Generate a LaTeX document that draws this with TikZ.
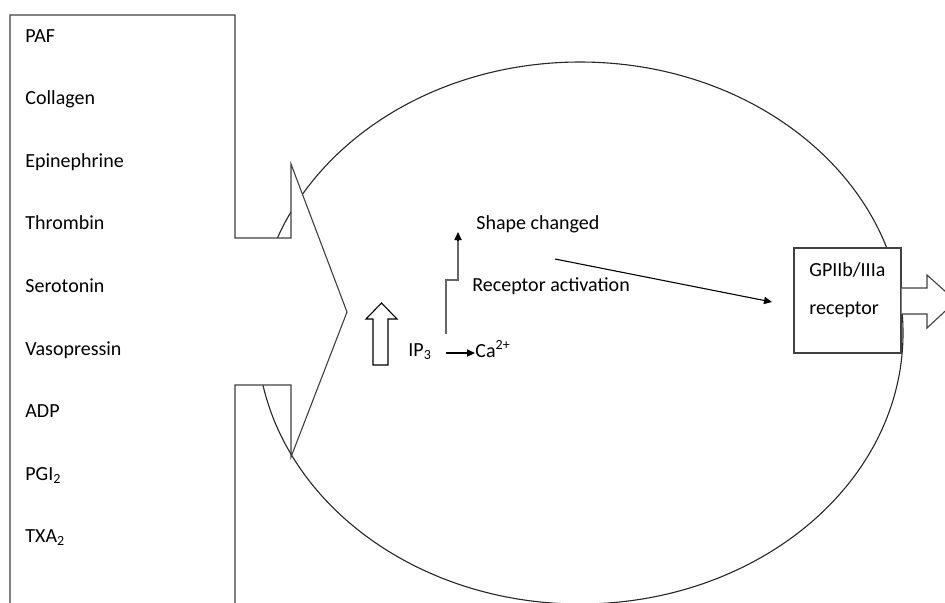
\documentclass[tikz,border=0pt]{standalone}
\usepackage{fontspec}
\setmainfont{Carlito}
\usetikzlibrary{arrows.meta,positioning}

\begin{document}
\begin{tikzpicture}[
  x=0.5pt, y=-0.5pt,
  font=\fontsize{10}{12}\selectfont,
  outline/.style={draw=black!75, line width=0.55pt, fill=white},
  lbl/.style={anchor=base west, inner sep=0pt},
  tip/.style={draw=black, line width=0.55pt, -{Triangle[length=4pt, width=3.6pt]}},
  stepline/.style={draw=black!60, line width=0.55pt}
]
\useasboundingbox (0,0) rectangle (945,602);
\clip (0,0) rectangle (945,602);

% cell
\draw[black!85, line width=0.55pt] (580,333) ellipse [x radius=161.5pt, y radius=135.5pt];

% agonist box with its arrow into the cell
\draw[outline] (10,615) -- (10,15) -- (235,15) -- (235,238) -- (291,238) -- (291,164)
  -- (347,312) -- (291,457) -- (291,385) -- (235,385) -- (235,615);

\node[lbl] (paf) at (25,42) {PAF};
\node[lbl] (collagen) at (25,104.6) {Collagen};
\node[lbl] (epi) at (25,167.2) {Epinephrine};
\node[lbl] (thrombin) at (25,229.8) {Thrombin};
\node[lbl] (serotonin) at (25,292.4) {Serotonin};
\node[lbl] (vaso) at (25,355) {Vasopressin};
\node[lbl] (adp) at (25,417.6) {ADP};
\node[lbl] (pgi) at (25,480.2) {PGI\textsubscript{2}};
\node[lbl] (txa) at (25,542.8) {TXA\textsubscript{2}};

% inside the cell
\draw[outline, draw=black] (373,365) -- (373,319) -- (366,319) -- (381.5,303) -- (397,319)
  -- (388,319) -- (388,365) -- cycle;

\node[lbl] (ip3) at (408,356) {IP\textsubscript{3}};
\node[lbl] (ca) at (475,357) {Ca\textsuperscript{2+}};
\node[lbl] (shape) at (476,229) {Shape changed};
\node[lbl] (recact) at (472,291) {Receptor activation};

\coordinate (ipout) at (446,353);
\coordinate (stepfoot) at (446,334);
\coordinate (stepknee) at (446,280);
\coordinate (steptop) at (458,232);
\coordinate (actout) at (555,259);

\draw[tip] (ipout) -- (ipout -| ca.west);
\draw[stepline] (stepfoot) -- (stepknee) -- (stepknee -| steptop) -- ([yshift=-4pt]steptop);
\draw[tip, shorten <=-0.1pt] ([yshift=-4.5pt]steptop) -- (steptop);

% receptor
\node[outline, minimum width=53.5pt, minimum height=52.5pt] (gp) at (847.5,300.5) {};
\node[lbl] (gptxt) at (809,276) {GPIIb/IIIa};
\node[lbl] (gprec) at (809,314) {receptor};
\coordinate (gpin) at (772,302);
\draw[tip] (actout) -- (gpin);

\draw[outline] (gp.east |- 0,288) -- (927,288) -- (927,275) -- (956,301) -- (927,328)
  -- (927,314) -- (gp.east |- 0,314);

\end{tikzpicture}
\end{document}
